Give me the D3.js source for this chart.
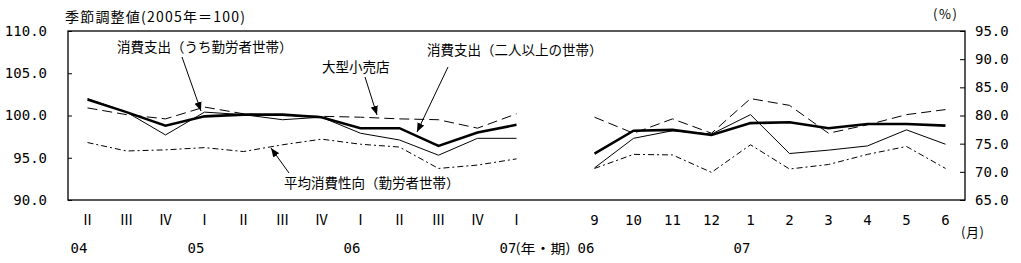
<!DOCTYPE html>
<html>
<head>
<meta charset="utf-8">
<script src="https://cdn.jsdelivr.net/npm/d3@7"></script>
<style>
  body { margin: 0; background: #fff; }
  text { fill: #000; }
</style>
</head>
<body>
<div id="chart"></div>
<script>
const w = 1021;
const h = 263;
const margin = { top: 31, right: 56, bottom: 63, left: 68 };

// quarterly part: 2004 II .. 2007 I
const quarters = ["Ⅱ", "Ⅲ", "Ⅳ", "Ⅰ", "Ⅱ", "Ⅲ", "Ⅳ", "Ⅰ", "Ⅱ", "Ⅲ", "Ⅳ", "Ⅰ"];
// monthly part: 2006/9 .. 2007/6
const months = ["9", "10", "11", "12", "1", "2", "3", "4", "5", "6"];

// 消費支出（二人以上の世帯）
const spendAllQ = [101.9, 100.4, 98.8, 99.9, 100.1, 100.1, 99.8, 98.5, 98.5, 96.4, 98.0, 98.9];
const spendAllM = [95.5, 98.2, 98.3, 97.7, 99.1, 99.2, 98.5, 99.0, 99.0, 98.8];
// 消費支出（うち勤労者世帯）
const spendWorkQ = [102.0, 100.4, 97.7, 100.4, 100.1, 99.5, 99.8, 97.9, 97.1, 95.3, 97.3, 97.3];
const spendWorkM = [93.8, 97.3, 98.2, 97.8, 100.1, 95.5, 95.9, 96.4, 98.3, 96.6];
// 大型小売店
const retailQ = [100.9, 100.1, 99.6, 101.0, 100.2, 100.0, 99.9, 99.8, 99.6, 99.5, 98.5, 100.2];
const retailM = [99.8, 97.9, 99.6, 97.9, 102.0, 101.2, 97.9, 98.9, 100.1, 100.7];
// 平均消費性向（勤労者世帯） %  -> right axis
const propensityQ = [75.2, 73.7, 73.9, 74.3, 73.6, 74.8, 75.8, 74.9, 74.4, 70.6, 71.2, 72.3];
const propensityM = [70.6, 73.1, 73.0, 69.9, 74.8, 70.5, 71.3, 73.1, 74.5, 70.6];

const leftTicks = [90, 95, 100, 105, 110];
const rightTicks = [65, 70, 75, 80, 85, 90, 95];

// year labels: [slot index, text]
const yearLabels = [
  [0, "04"], [3, "05"], [7, "06"], [11, "07"],
  [13, "06"], [17, "07"],
];

const qKeys = quarters.map((d, i) => "q" + i);
const mKeys = months.map((d, i) => "m" + i);
const slots = qKeys.concat(["gap"], mKeys);

const svg = d3
  .select("#chart")
  .append("svg")
  .attr("width", w)
  .attr("height", h);

const x = d3
  .scaleBand()
  .domain(slots)
  .range([margin.left, w - margin.right])
  .padding(0);

const yL = d3
  .scaleLinear()
  .domain([90, 110])
  .range([h - margin.bottom, margin.top]);

const yR = d3
  .scaleLinear()
  .domain([65, 95])
  .range([h - margin.bottom, margin.top]);

const cx = (k) => x(k) + x.bandwidth() / 2;
const mono = "'DejaVu Sans Mono', 'Liberation Mono', monospace";
const jp = "'Noto Sans CJK JP', 'Noto Sans', sans-serif";

// frame
svg
  .append("rect")
  .attr("x", margin.left)
  .attr("y", margin.top)
  .attr("width", w - margin.right - margin.left)
  .attr("height", h - margin.bottom - margin.top)
  .attr("fill", "none")
  .attr("stroke", "#000")
  .attr("stroke-width", 1.3);

// axes
const axL = svg
  .append("g")
  .attr("transform", `translate(${margin.left},0)`)
  .call(
    d3.axisLeft(yL).tickValues(leftTicks).tickFormat(d3.format(".1f"))
      .tickSize(-4).tickPadding(21)
  );
const axR = svg
  .append("g")
  .attr("transform", `translate(${w - margin.right},0)`)
  .call(
    d3.axisRight(yR).tickValues(rightTicks).tickFormat(d3.format(".1f"))
      .tickSize(-5).tickPadding(10)
  );
[axL, axR].forEach((ax) => {
  ax.select(".domain").remove();
  ax.selectAll("line").attr("stroke", "#000");
  ax.selectAll("text")
    .attr("font-family", mono)
    .attr("font-size", "14px")
    .attr("fill", "#000");
});

// series
const series = [
  { q: propensityQ, m: propensityM, y: yR, width: 1, dash: "6,3,2,3" },
  { q: retailQ, m: retailM, y: yL, width: 1, dash: "10,5" },
  { q: spendWorkQ, m: spendWorkM, y: yL, width: 1, dash: null },
  { q: spendAllQ, m: spendAllM, y: yL, width: 2.6, dash: null },
];

series.forEach((s) => {
  const line = d3
    .line()
    .x((d) => cx(d[0]))
    .y((d) => s.y(d[1]));
  [[qKeys, s.q], [mKeys, s.m]].forEach(([keys, vals]) => {
    svg
      .append("path")
      .datum(keys.map((k, i) => [k, vals[i]]))
      .attr("d", line)
      .attr("fill", "none")
      .attr("stroke", "#000")
      .attr("stroke-width", s.width)
      .attr("stroke-dasharray", s.dash);
  });
});

// x labels
svg
  .selectAll(".qlab")
  .data(quarters)
  .enter()
  .append("text")
  .attr("x", (d, i) => cx(qKeys[i]))
  .attr("y", 220)
  .attr("dy", "0.35em")
  .attr("text-anchor", "middle")
  .attr("font-family", jp)
  .attr("font-size", "14px")
  .text((d) => d);

svg
  .selectAll(".mlab")
  .data(months)
  .enter()
  .append("text")
  .attr("x", (d, i) => cx(mKeys[i]))
  .attr("y", 220)
  .attr("dy", "0.35em")
  .attr("text-anchor", "middle")
  .attr("font-family", mono)
  .attr("font-size", "14px")
  .text((d) => d);

svg
  .selectAll(".ylab")
  .data(yearLabels)
  .enter()
  .append("text")
  .attr("x", (d) => cx(slots[d[0]]) - 17)
  .attr("y", 248)
  .attr("dy", "0.35em")
  .attr("font-family", mono)
  .attr("font-size", "14px")
  .text((d) => d[1]);

svg.append("text")
  .attr("x", cx(slots[11]) - 1).attr("y", 248).attr("dy", "0.35em")
  .attr("font-family", jp).attr("font-size", "13px")
  .attr("textLength", 55).attr("lengthAdjust", "spacingAndGlyphs")
  .text("(年・期)");

svg.append("text")
  .attr("x", 961).attr("y", 232).attr("dy", "0.35em")
  .attr("font-family", jp).attr("font-size", "13px")
  .attr("textLength", 23).attr("lengthAdjust", "spacing")
  .text("(月)");

svg.append("text")
  .attr("x", 65).attr("y", 17).attr("dy", "0.35em")
  .attr("font-family", jp).attr("font-size", "14px")
  .attr("textLength", 180).attr("lengthAdjust", "spacing")
  .text("季節調整値(2005年＝100)");

svg.append("text")
  .attr("x", 933).attr("y", 14).attr("dy", "0.35em")
  .attr("font-family", jp).attr("font-size", "13px")
  .attr("textLength", 24).attr("lengthAdjust", "spacing")
  .text("(%)");

// annotations with arrows
svg.append("defs").append("marker")
  .attr("id", "arrow")
  .attr("viewBox", "0 0 10 10")
  .attr("refX", 10).attr("refY", 5)
  .attr("markerWidth", 9).attr("markerHeight", 9)
  .attr("markerUnits", "userSpaceOnUse")
  .attr("orient", "auto")
  .append("path")
  .attr("d", "M0,1 L10,5 L0,9 z")
  .attr("fill", "#000");

const notes = [
  { text: "消費支出（うち勤労者世帯）", tx: 117, ty: 47, from: [182, 57], to: [201, 111] },
  { text: "大型小売店", tx: 322, ty: 67, from: [365, 77], to: [377, 115] },
  { text: "消費支出（二人以上の世帯）", tx: 427, ty: 50, from: [448, 67], to: [417, 132] },
  { text: "平均消費性向（勤労者世帯）", tx: 284, ty: 183, from: [289, 173], to: [271, 148] },
];

notes.forEach((n) => {
  svg.append("text")
    .attr("x", n.tx).attr("y", n.ty).attr("dy", "0.35em")
    .attr("font-family", jp).attr("font-size", "13.5px")
    .text(n.text);
  svg.append("line")
    .attr("x1", n.from[0]).attr("y1", n.from[1])
    .attr("x2", n.to[0]).attr("y2", n.to[1])
    .attr("stroke", "#000").attr("stroke-width", 1)
    .attr("marker-end", "url(#arrow)");
});
</script>
</body>
</html>
